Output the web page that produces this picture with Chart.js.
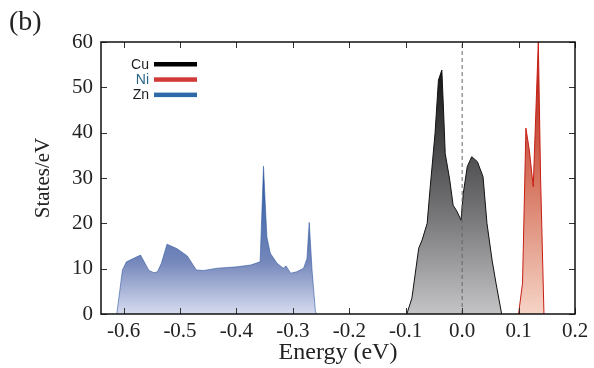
<!DOCTYPE html>
<html>
<head>
<meta charset="utf-8">
<script src="https://cdn.jsdelivr.net/npm/chart.js@4.4.0/dist/chart.umd.min.js"></script>
<style>
    html, body { margin: 0; padding: 0; background: #fff; }
    #quadro { position: relative; width: 594px; height: 368px; }
    #painel { position: absolute; left: 9px; top: 5px; font: 28px "Liberation Serif", serif; color: #222; }
</style>
</head>
<body>
<div id="quadro">
    <canvas id="graficoDos" width="594" height="368"></canvas>
    <div id="painel">(b)</div>
</div>
<script>
// valores (energia em eV, estados/eV)
const znEnergia = [-0.612, -0.602, -0.595, -0.570, -0.555, -0.546, -0.540, -0.533, -0.523, -0.505, -0.487, -0.471, -0.458, -0.434, -0.399, -0.375, -0.358, -0.352, -0.349, -0.346, -0.340, -0.328, -0.317, -0.312, -0.304, -0.293, -0.281, -0.275, -0.271, -0.266, -0.260, -0.258];
const znDos = [0, 9.7, 11.5, 13.0, 9.6, 9.1, 9.3, 11.2, 15.4, 14.4, 12.8, 9.7, 9.6, 10.1, 10.4, 10.8, 11.5, 32.6, 24.5, 17.0, 13.4, 11.2, 10.1, 10.6, 9.0, 9.3, 10.1, 12.2, 20.2, 9.7, 0.5, 0];

const cuEnergia = [-0.098, -0.089, -0.077, -0.071, -0.062, -0.057, -0.048, -0.042, -0.036, -0.033, -0.030, -0.022, -0.016, -0.009, -0.002, 0.002, 0.009, 0.017, 0.027, 0.037, 0.044, 0.053, 0.060, 0.070];
const cuDos = [0, 3.5, 14.5, 16.3, 20.0, 27.4, 39.9, 51.6, 53.8, 45.0, 35.4, 29.6, 24.0, 22.6, 20.7, 26.6, 32.5, 34.7, 33.6, 30.3, 20.0, 11.9, 6.8, 0];

const niEnergia = [0.100, 0.107, 0.113, 0.119, 0.126, 0.135, 0.139, 0.145];
const niDos = [0, 6.8, 41.0, 36.2, 28.1, 60.0, 30.0, 0];

const nomes = ['Cu', 'Ni', 'Zn'];
const xTicks = [-0.6, -0.5, -0.4, -0.3, -0.2, -0.1, 0.0, 0.1, 0.2];
const yTicks = [0, 10, 20, 30, 40, 50, 60];
const linhaZero = [0, 60];

function pontos(energias, valores) {
    return energias.map((e, i) => ({ x: e, y: valores[i] }));
}

function gradiente(ctx, valorTopo, paradas) {
    const chart = ctx.chart;
    if (!chart.chartArea) return null;
    const y0 = chart.scales.y.getPixelForValue(0);
    const y1 = chart.scales.y.getPixelForValue(valorTopo);
    const g = chart.ctx.createLinearGradient(0, y0, 0, y1);
    paradas.forEach(([p, c]) => g.addColorStop(p, c));
    return g;
}

const coresLegenda = { Cu: '#000000', Ni: '#d23a3a', Zn: '#2e6aa8' };
const coresTexto = { Cu: '#1a1f24', Ni: '#2a6485', Zn: '#1a1f24' };

const legendaPlugin = {
    id: 'legendaInterna',
    afterDraw(chart) {
        const ctx = chart.ctx;
        ctx.save();
        ctx.font = '14px "Liberation Sans", Arial, sans-serif';
        ctx.textAlign = 'right';
        ctx.textBaseline = 'middle';
        nomes.forEach((n, i) => {
            const y = 64 + i * 15.3;
            ctx.fillStyle = coresTexto[n];
            ctx.fillText(n, 149, y + 1);
            ctx.fillStyle = coresLegenda[n];
            ctx.fillRect(154, y - 2, 43, 4.5);
        });
        ctx.restore();
    }
};

const molduraPlugin = {
    id: 'moldura',
    afterDatasetsDraw(chart) {
        const { ctx, chartArea: a, scales: { x, y } } = chart;
        ctx.save();
        ctx.strokeStyle = '#333';
        ctx.lineWidth = 1;
        ctx.beginPath();
        x.ticks.forEach(t => {
            const px = Math.round(x.getPixelForValue(t.value)) + 0.5;
            ctx.moveTo(px, a.bottom); ctx.lineTo(px, a.bottom - 6);
            ctx.moveTo(px, a.top); ctx.lineTo(px, a.top + 6);
        });
        y.ticks.forEach(t => {
            const py = Math.round(y.getPixelForValue(t.value)) + 0.5;
            ctx.moveTo(a.left, py); ctx.lineTo(a.left + 6, py);
            ctx.moveTo(a.right, py); ctx.lineTo(a.right - 6, py);
        });
        ctx.stroke();
        ctx.strokeStyle = '#111';
        ctx.lineWidth = 1.5;
        ctx.strokeRect(a.left, a.top, a.right - a.left, a.bottom - a.top);
        ctx.restore();
    }
};

const fonteSerif = '"Liberation Serif", "Times New Roman", serif';

new Chart(document.getElementById('graficoDos'), {
    type: 'line',
    data: {
        datasets: [
            {
                label: 'EF',
                data: pontos([0, 0], linhaZero),
                borderColor: '#666',
                borderWidth: 1,
                borderDash: [4, 3],
                fill: false,
                pointRadius: 0
            },
            {
                label: 'Cu',
                data: pontos(cuEnergia, cuDos),
                borderColor: '#111',
                borderWidth: 1,
                backgroundColor: ctx => gradiente(ctx, 54, [[0, '#c4c4c6'], [0.4, '#77777a'], [1, '#141414']]),
                fill: 'origin',
                pointRadius: 0
            },
            {
                label: 'Ni',
                data: pontos(niEnergia, niDos),
                borderColor: '#c81e14',
                borderWidth: 1,
                backgroundColor: ctx => gradiente(ctx, 60, [[0, '#f6d4c6'], [0.5, '#d5735e'], [1, '#b0160c']]),
                fill: 'origin',
                pointRadius: 0
            },
            {
                label: 'Zn',
                data: pontos(znEnergia, znDos),
                borderColor: 'rgba(50,90,160,0.6)',
                borderWidth: 1,
                backgroundColor: ctx => gradiente(ctx, 33, [[0, '#d6dcef'], [0.35, '#7587bb'], [1, '#2257a2']]),
                fill: 'origin',
                pointRadius: 0
            }
        ]
    },
    options: {
        responsive: false,
        animation: false,
        layout: { padding: { left: 0, top: 42, right: 19, bottom: 0 } },
        plugins: { legend: { display: false }, tooltip: { enabled: false } },
        scales: {
            x: {
                type: 'linear',
                min: -0.64,
                max: 0.2,
                afterBuildTicks: s => { s.ticks = xTicks.map(v => ({ value: v })); },
                afterFit: s => { s.height = 54; },
                grid: { display: false, drawTicks: false },
                border: { display: false },
                ticks: {
                    autoSkip: false,
                    maxRotation: 0,
                    padding: 5,
                    color: '#222',
                    font: { family: fonteSerif, size: 21 },
                    callback: v => v.toFixed(1)
                },
                title: {
                    display: true,
                    text: 'Energy (eV)',
                    color: '#222',
                    font: { family: fonteSerif, size: 24 },
                    padding: { top: 0, bottom: 1 }
                }
            },
            y: {
                min: 0,
                max: 60,
                afterBuildTicks: s => { s.ticks = yTicks.map(v => ({ value: v })); },
                afterFit: s => { s.width = 101; },
                grid: { display: false, drawTicks: false },
                border: { display: false },
                ticks: {
                    padding: 8,
                    color: '#222',
                    font: { family: fonteSerif, size: 21 }
                },
                title: {
                    display: true,
                    text: 'States/eV',
                    color: '#222',
                    font: { family: fonteSerif, size: 21 },
                    padding: { top: 31, bottom: 0 }
                }
            }
        }
    },
    plugins: [legendaPlugin, molduraPlugin]
});
</script>
</body>
</html>
